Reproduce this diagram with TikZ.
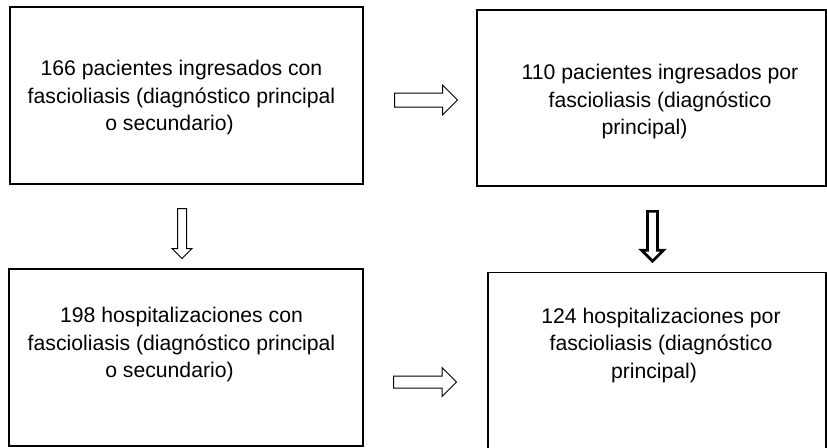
\documentclass[tikz,border=0pt]{standalone}
\usepackage{fontspec}
\setmainfont{Liberation Sans}
\usetikzlibrary{shapes.arrows, positioning}

\begin{document}
\begin{tikzpicture}[
  x=1pt, y=-1pt,
  box/.style={draw, line width=1.4pt, outer sep=0pt, inner sep=0pt},
  txt/.style={align=center, inner sep=0pt, font=\fontsize{21.2}{27.5}\selectfont},
  blockarr/.style={single arrow, draw, fill=white, line width=1pt,
    outer sep=0pt, single arrow tip angle=90, anchor=tail}
]
  \useasboundingbox (0,0) rectangle (827,447);

  % boxes
  \node[box, minimum width=353pt, minimum height=177pt] (pacall) at (186.5,95.5) {};
  \node[box, minimum width=349pt, minimum height=176pt] (pacppal) at (651.5,98) {};
  \node[box, minimum width=354pt, minimum height=177pt] (hospall) at (186,357.5) {};
  \node[box, minimum width=338pt, minimum height=177pt] (hospppal) at (657,361) {};

  % texts
  \node[txt] (pacalltext) at (181.5,97.7)
    {166 pacientes ingresados con\\fascioliasis (diagnóstico principal\\o secundario)\hspace*{24pt}};
  \node[txt] (pacppaltext) at (660,101.7)
    {110 pacientes ingresados por\\fascioliasis (diagnóstico\\principal)\hspace*{31pt}};
  \node[txt] (hospalltext) at (181.5,345)
    {198 hospitalizaciones con\\fascioliasis (diagnóstico principal\\o secundario)\hspace*{24pt}};
  \node[txt] (hospppaltext) at (661,345.5)
    {124 hospitalizaciones por\\fascioliasis (diagnóstico\\principal)\hspace*{14pt}};

  % block arrows
  \node[blockarr, inner sep=6.5pt, minimum height=63pt, minimum width=29pt,
    single arrow head extend=8pt]
    (toppal) at ([xshift=31.5pt, yshift=-4.5pt]pacall.east) {};
  \node[blockarr, inner sep=5.5pt, minimum height=63pt, minimum width=28pt,
    single arrow head extend=8.5pt]
    (tohospppal) at ([xshift=30.5pt, yshift=-24.5pt]hospall.east) {};
  \node[blockarr, shape border rotate=270, inner sep=4pt, minimum height=50pt,
    minimum width=19pt, single arrow head extend=5.5pt]
    (tohospall) at ([xshift=-4.5pt, yshift=-24.5pt]pacall.south) {};
  \node[blockarr, shape border rotate=270, line width=2.7pt, inner sep=3.65pt,
    minimum height=49.8pt, minimum width=19.3pt, single arrow head extend=6pt]
    (tohospppal2) at ([xshift=1pt, yshift=-25.35pt]pacppal.south) {};
\end{tikzpicture}
\end{document}
